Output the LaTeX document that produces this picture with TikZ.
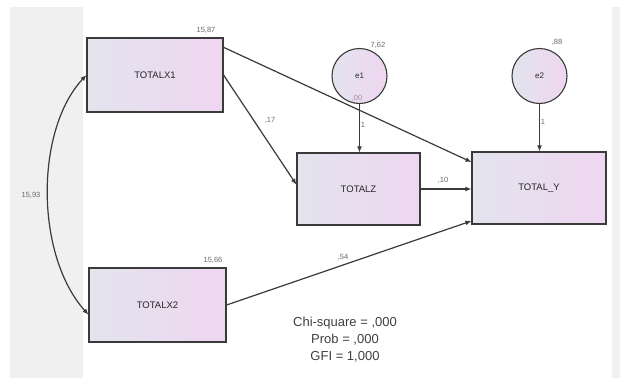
\documentclass[tikz,border=0pt]{standalone}
\usepackage{fontspec}
\setmainfont{Liberation Sans}
\usetikzlibrary{arrows.meta,calc}

\definecolor{bandgray}{HTML}{F0F0F0}
\definecolor{boxleft}{HTML}{E2E4EE}
\definecolor{boxright}{HTML}{EFD6F0}
\definecolor{edgegray}{HTML}{3A3A3A}
\definecolor{lblgray}{HTML}{6A6A6A}

\begin{document}
\begin{tikzpicture}
[
	x=1pt,
	y=-1pt,
	varbox/.style={rectangle,draw=edgegray,line width=1.1pt,left color=boxleft,right color=boxright,
		font=\fontsize{9.5}{11}\selectfont,text=black!85},
	errcirc/.style={circle,draw=edgegray,line width=1.1pt,left color=boxleft,right color=boxright,
		minimum size=55pt,inner sep=0pt,font=\fontsize{8}{9}\selectfont,text=black!85},
	lbl/.style={inner sep=0pt,font=\fontsize{7.5}{8}\selectfont,text=lblgray},
	path/.style={draw=edgegray,line width=1.2pt,-{Latex[length=6pt,width=5pt]}},
	fit/.style={inner sep=0pt,align=center,font=\fontsize{13}{17}\selectfont,text=black!75}
]

	% background
	\useasboundingbox (0,0) rectangle (620,378);
	\fill[white] (0,0) rectangle (620,378);
	\fill[bandgray] (10,7) rectangle (83,378);
	\fill[bandgray] (612,7) rectangle (620,378);

	% variables
	\node[varbox,minimum width=136pt,minimum height=74pt] (x1) at (155,75) {TOTALX1};
	\node[varbox,minimum width=137pt,minimum height=74pt] (x2) at (157.5,305) {TOTALX2};
	\node[varbox,minimum width=123pt,minimum height=72pt] (z) at (358.5,189) {TOTALZ};
	\node[varbox,minimum width=134pt,minimum height=72pt] (y) at (539,188) {TOTAL\_Y};
	\node[errcirc] (e1) at (359.5,76) {e1};
	\node[errcirc] (e2) at (539.5,76) {e2};

	% paths
	\draw[path] (x1.22) -- (y.159);
	\draw[path] (x1.east) -- (z.176);
	\draw[path] (z.east) -- (z.east -| y.west);
	\draw[path] (x2.east) -- (y.206);
	\draw[path] (e1.south) -- (e1.south |- z.north);
	\draw[path] (e2.south) -- (e2.south |- y.north);
	\draw[draw=edgegray,line width=1.2pt,{Latex[length=6pt,width=5pt]}-{Latex[length=6pt,width=5pt]}]
	  (x1.west) .. controls (35,130) and (35,255) .. (x2.188);

	% estimates
	\node[lbl] (vx1) at (206,30) {15,87};
	\node[lbl] (vx2) at (213,260) {15,66};
	\node[lbl] (ve1) at (378,45) {7,62};
	\node[lbl] (ve2) at (557,42) {,88};
	\node[lbl,text=black!55!magenta!60] (rz) at (357,98) {,00};
	\node[lbl] (w1) at (363,125) {1};
	\node[lbl] (w2) at (543,122) {1};
	\node[lbl] (bx1z) at (270,120) {,17};
	\node[lbl] (bzy) at (443,180) {,10};
	\node[lbl] (bx2y) at (343,257) {,54};
	\node[lbl] (cx) at (31,195) {15,93};

	% fit indices
	\node[fit] (fitinfo) at (345,340) {Chi-square = ,000\\Prob = ,000\\GFI = 1,000};

\end{tikzpicture}
\end{document}
